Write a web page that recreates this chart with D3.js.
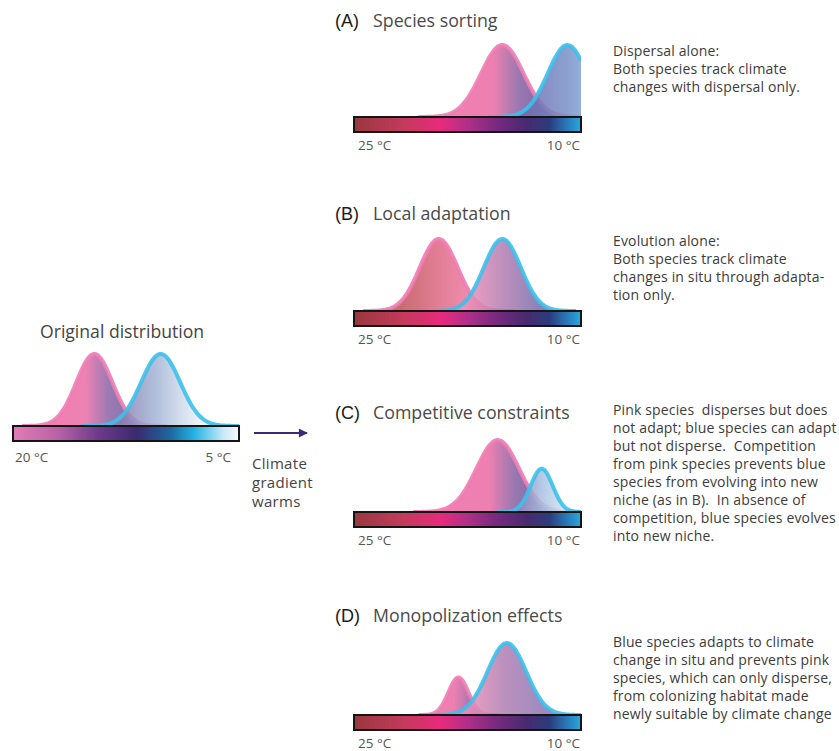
<!DOCTYPE html>
<html>
<head>
<meta charset="utf-8">
<script src="https://cdn.jsdelivr.net/npm/d3@7"></script>
<style>
body { margin: 0; background: #fff; }
text { font-family: 'Open Sans', sans-serif; white-space: pre; }
</style>
</head>
<body>
<svg id="chart" width="839" height="751"></svg>
<script>
// --- data ---
var panelKeys = ['O', 'A', 'B', 'C', 'D'];
var panelLetters = ['', '(A)', '(B)', '(C)', '(D)'];
var panelTitles = ['Original distribution', 'Species sorting', 'Local adaptation', 'Competitive constraints', 'Monopolization effects'];
var tempDomains = [[20, 5], [25, 10], [25, 10], [25, 10], [25, 10]];
var tickLabels = [['20 °C', '5 °C'], ['25 °C', '10 °C'], ['25 °C', '10 °C'], ['25 °C', '10 °C'], ['25 °C', '10 °C']];

// pink species: mean temperature, spread, relative abundance peak
var pinkMean = [14.6, 15.2, 19.4, 15.5, 18.1];
var pinkSd = [1.2, 1.4, 1.25, 1.4, 0.66];
var pinkPeak = [1, 1, 1, 1, 0.52];
// blue species
var blueMean = [10.2, 10.9, 15.2, 12.6, 14.9];
var blueSd = [1.3, 1.3, 1.22, 0.73, 1.27];
var bluePeak = [1, 1, 1, 0.6, 1];

var notes = [
    [],
    ['Dispersal alone:', 'Both species track climate', 'changes with dispersal only.'],
    ['Evolution alone:', 'Both species track climate', 'changes in situ through adapta-', 'tion only.'],
    ['Pink species  disperses but does', 'not adapt; blue species can adapt', 'but not disperse.  Competition', 'from pink species prevents blue', 'species from evolving into new', 'niche (as in B).  In absence of', 'competition, blue species evolves', 'into new niche.'],
    ['Blue species adapts to climate', 'change in situ and prevents pink', 'species, which can only disperse,', 'from colonizing habitat made', 'newly suitable by climate change']
];
var arrowLabel = ['Climate', 'gradient', 'warms'];

// --- layout ---
var layout = [
    {x0: 13, x1: 239, bar: 426, titleY: 338, noteY: 0},
    {x0: 354, x1: 581, bar: 117, titleY: 27, noteY: 56},
    {x0: 354, x1: 581, bar: 311, titleY: 220, noteY: 246},
    {x0: 354, x1: 581, bar: 512, titleY: 419, noteY: 415},
    {x0: 354, x1: 581, bar: 715, titleY: 622, noteY: 647}
];
var curveH = 72, barH = 15;

// --- styles ---
var barStopsOrig = [[0, '#e27cb6'], [0.2, '#b862a6'], [0.38, '#6c3a8a'], [0.55, '#3a2a70'], [0.7, '#1c6aa2'], [0.8, '#22b2e2'], [0.93, '#c6eaf7'], [1, '#f6fbfd']];
var barStopsNew = [[0, '#98383e'], [0.22, '#c43a5c'], [0.38, '#e82a7c'], [0.5, '#b03088'], [0.62, '#7a2a80'], [0.76, '#482a70'], [0.86, '#2c3c7c'], [0.95, '#2a82c2'], [1, '#28aadb']];
var pinkStops = {
    O: [[0, '#f07fb2'], [0.38, '#ec82b2'], [0.7, '#9a7ab2'], [1, '#8a74ae']],
    A: [[0, '#f07fb2'], [0.4, '#ec80b0'], [0.7, '#9878b0'], [1, '#8868a8']],
    B: [[0, '#c86c70'], [0.45, '#e07c92'], [1, '#f290b4']],
    C: [[0, '#f07fb2'], [0.4, '#ec80b0'], [0.7, '#9878b0'], [1, '#8868a8']],
    D: [[0, '#f07fb2'], [0.4, '#ea80b0'], [1, '#9070b0']]
};
var blueStops = {
    O: [[0, '#8a80b2'], [0.45, '#a4b6d6'], [1, '#eaf3f9']],
    A: [[0, '#6e6eb0'], [0.5, '#7890c8'], [1, '#8ec2e2']],
    B: [[0, '#f090b8'], [0.4, '#c080b2'], [1, '#786cac']],
    C: [[0, '#9088c0'], [0.5, '#a8c0e0'], [1, '#cce2f1']],
    D: [[0, '#ec8eb8'], [0.45, '#b07eb2'], [1, '#8c76b4']]
};
var pinkLine = '#f07cb2', blueLine = '#3cc0ea';
var noteFont = {size: 14, spacing: 0.15, color: '#3c3c3c'};

var svg = d3.select('#chart');
var defs = svg.append('defs');

function addGradient(id, stops, x1, x2) {
    var g = defs.append('linearGradient').attr('id', id)
        .attr('gradientUnits', 'userSpaceOnUse')
        .attr('x1', x1).attr('x2', x2).attr('y1', 0).attr('y2', 0);
    g.selectAll('stop').data(stops).enter().append('stop')
        .attr('offset', function(d){ return d[0]; })
        .attr('stop-color', function(d){ return d[1]; });
}

function drawSpecies(g, x, y, key, who, mean, sd, peak, stops, lineColor, fillOpacity) {
    var dom = x.domain();
    var lo = Math.max(Math.min(dom[0], dom[1]), mean - 4 * sd),
        hi = Math.min(Math.max(dom[0], dom[1]), mean + 4 * sd);
    var pts = d3.range(lo, hi + 0.001, sd / 25).map(function(t){
        return {t: t, v: peak * Math.exp(-0.5 * Math.pow((t - mean) / sd, 2))};
    });
    var gid = 'fill-' + key + '-' + who;
    addGradient(gid, stops, x(mean + 2 * sd), x(mean - 2 * sd));
    var area = d3.area().x(function(d){ return x(d.t); }).y0(y(0)).y1(function(d){ return y(d.v); }).curve(d3.curveBasis);
    var line = d3.line().x(function(d){ return x(d.t); }).y(function(d){ return y(d.v); }).curve(d3.curveBasis);
    g.append('path').datum(pts).attr('d', area)
        .attr('fill', 'url(#' + gid + ')').attr('fill-opacity', fillOpacity);
    g.append('path').datum(pts).attr('d', line)
        .attr('fill', 'none').attr('stroke', lineColor).attr('stroke-width', 4)
        .attr('stroke-opacity', 0.9).attr('stroke-linejoin', 'round');
}

panelKeys.forEach(function(key, i){
    var L = layout[i];
    var x = d3.scaleLinear().domain(tempDomains[i]).range([L.x0, L.x1]);
    var y = d3.scaleLinear().domain([0, 1]).range([L.bar, L.bar - curveH]);
    var g = svg.append('g').attr('class', 'panel-' + key);

    defs.append('clipPath').attr('id', 'clip-' + key)
        .append('rect').attr('x', L.x0).attr('y', L.bar - curveH - 10)
        .attr('width', L.x1 - L.x0).attr('height', curveH + 12);
    var cg = g.append('g').attr('clip-path', 'url(#clip-' + key + ')');

    drawSpecies(cg, x, y, key, 'pink', pinkMean[i], pinkSd[i], pinkPeak[i], pinkStops[key], pinkLine, 1);
    drawSpecies(cg, x, y, key, 'blue', blueMean[i], blueSd[i], bluePeak[i], blueStops[key], blueLine, 0.85);

    // temperature gradient bar
    addGradient('bar-' + key, i === 0 ? barStopsOrig : barStopsNew, L.x0, L.x1);
    g.append('rect').attr('x', L.x0).attr('y', L.bar).attr('width', L.x1 - L.x0).attr('height', barH)
        .attr('fill', 'url(#bar-' + key + ')').attr('stroke', '#151515').attr('stroke-width', 2);

    // end labels
    var ly = L.bar + barH + (i === 0 ? 21 : 17.5);
    g.append('text').attr('x', L.x0 + (i === 0 ? 2 : 4)).attr('y', ly)
        .attr('font-size', 13.5).attr('fill', '#555').text(tickLabels[i][0]);
    g.append('text').attr('x', L.x1 - (i === 0 ? 8 : 1)).attr('y', ly)
        .attr('text-anchor', 'end').attr('font-size', 13.5).attr('fill', '#555').text(tickLabels[i][1]);

    // titles
    if (i === 0) {
        g.append('text').attr('x', 40).attr('y', L.titleY).attr('font-size', 17.6).attr('fill', '#444').text(panelTitles[i]);
    } else {
        g.append('text').attr('x', 335).attr('y', L.titleY).attr('font-size', 18)
            .style('font-family', "'Liberation Sans', Arial, sans-serif").attr('fill', '#1a1a1a').text(panelLetters[i]);
        g.append('text').attr('x', 373).attr('y', L.titleY).attr('font-size', 17.8).attr('fill', '#4a4a4a').text(panelTitles[i]);
    }

    // explanatory notes
    g.selectAll('text.note').data(notes[i]).enter().append('text').attr('class', 'note')
        .attr('x', 613).attr('y', function(d, j){ return L.noteY + j * 18; })
        .attr('font-size', noteFont.size).attr('letter-spacing', noteFont.spacing)
        .attr('fill', noteFont.color).text(function(d){ return d; });
});

// arrow between the original and the four outcomes
defs.append('marker').attr('id', 'arrowhead').attr('viewBox', '0 0 10 10')
    .attr('refX', 9).attr('refY', 5).attr('markerWidth', 5.5).attr('markerHeight', 4.5)
    .attr('orient', 'auto').attr('markerUnits', 'strokeWidth')
    .append('path').attr('d', 'M0,0 L10,5 L0,10 z').attr('fill', '#3a2a78');
svg.append('line').attr('x1', 254).attr('x2', 307).attr('y1', 433).attr('y2', 433)
    .attr('stroke', '#3a2a78').attr('stroke-width', 2).attr('marker-end', 'url(#arrowhead)');
svg.selectAll('text.arrowlab').data(arrowLabel).enter().append('text').attr('class', 'arrowlab')
    .attr('x', 252).attr('y', function(d, j){ return 469 + j * 19; })
    .attr('font-size', 15).attr('letter-spacing', 0.3).attr('fill', '#444').text(function(d){ return d; });
</script>
</body>
</html>
